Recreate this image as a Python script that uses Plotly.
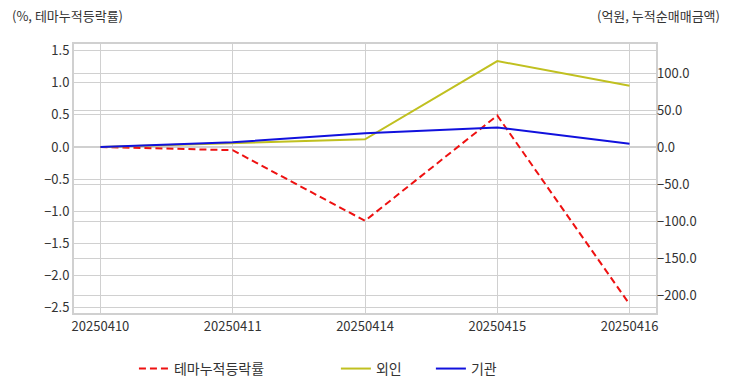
import plotly.graph_objects as go

dates = ["20250410", "20250411", "20250414", "20250415", "20250416"]
theme_rate = [0.0, -0.05, -1.15, 0.49, -2.45]
foreign = [0.0, 5.4, 10.4, 116.2, 82.8]
institution = [0.0, 6.5, 18.5, 26.4, 4.5]

FONT = "Noto Sans CJK KR, Noto Sans, sans-serif"

fig = go.Figure()
fig.add_trace(go.Scatter(x=dates, y=theme_rate, name="테마누적등락률", mode="lines",
                         line=dict(color="#ee1111", width=2, dash="7px,4px"),
                         legend="legend", yaxis="y"))
fig.add_trace(go.Scatter(x=dates, y=foreign, name="외인", mode="lines",
                         line=dict(color="#c0c020", width=2),
                         legend="legend2", yaxis="y2"))
fig.add_trace(go.Scatter(x=dates, y=institution, name="기관", mode="lines",
                         line=dict(color="#1111dd", width=2),
                         legend="legend2", yaxis="y2"))

grid = "#d0d0d0"
tf = dict(size=13, color="#333333")
fig.update_layout(
    width=732, height=392,
    margin=dict(l=74, r=76, t=44, b=79, autoexpand=False),
    paper_bgcolor="white", plot_bgcolor="white",
    font=dict(family=FONT, size=13, color="#333333"),
    showlegend=True,
    xaxis=dict(type="category", range=[-0.2, 4.2], showgrid=True, gridcolor=grid,
               gridwidth=1, showline=True, linecolor=grid, linewidth=2, mirror=True,
               ticks="", tickfont=tf, zeroline=False, automargin=False),
    yaxis=dict(range=[-2.586, 1.604], dtick=0.5, tick0=0, tickformat=".1f",
               showgrid=True, gridcolor=grid, gridwidth=1, zeroline=False,
               showline=True, linecolor=grid, linewidth=2, mirror=True,
               ticks="", tickfont=tf, automargin=False),
    yaxis2=dict(range=[-224.3, 139.2], dtick=50, tick0=0, tickformat=".1f",
                overlaying="y", side="right", showgrid=True, gridcolor=grid,
                gridwidth=1, zeroline=False, ticks="", tickfont=tf, automargin=False),
    legend=dict(orientation="h", x=0.103, xanchor="left", y=-0.208, yanchor="middle",
                font=dict(size=14, color="#333333"), bgcolor="rgba(0,0,0,0)"),
    legend2=dict(orientation="h", x=0.450, xanchor="left", y=-0.208, yanchor="middle",
                 entrywidth=50, entrywidthmode="pixels",
                 font=dict(size=14, color="#333333"), bgcolor="rgba(0,0,0,0)"),
    annotations=[
        dict(text="(%, 테마누적등락률)", xref="paper", yref="paper",
             x=-0.110, y=1.0, xanchor="left", yanchor="bottom", yshift=17,
             showarrow=False, font=dict(size=13, color="#333333")),
        dict(text="(억원, 누적순매매금액)", xref="paper", yref="paper",
             x=1.113, y=1.0, xanchor="right", yanchor="bottom", yshift=17,
             showarrow=False, font=dict(size=13, color="#333333")),
    ],
)

fig.write_html("out.html", config={"displayModeBar": False},
               post_script="document.body.style.margin='0';")
